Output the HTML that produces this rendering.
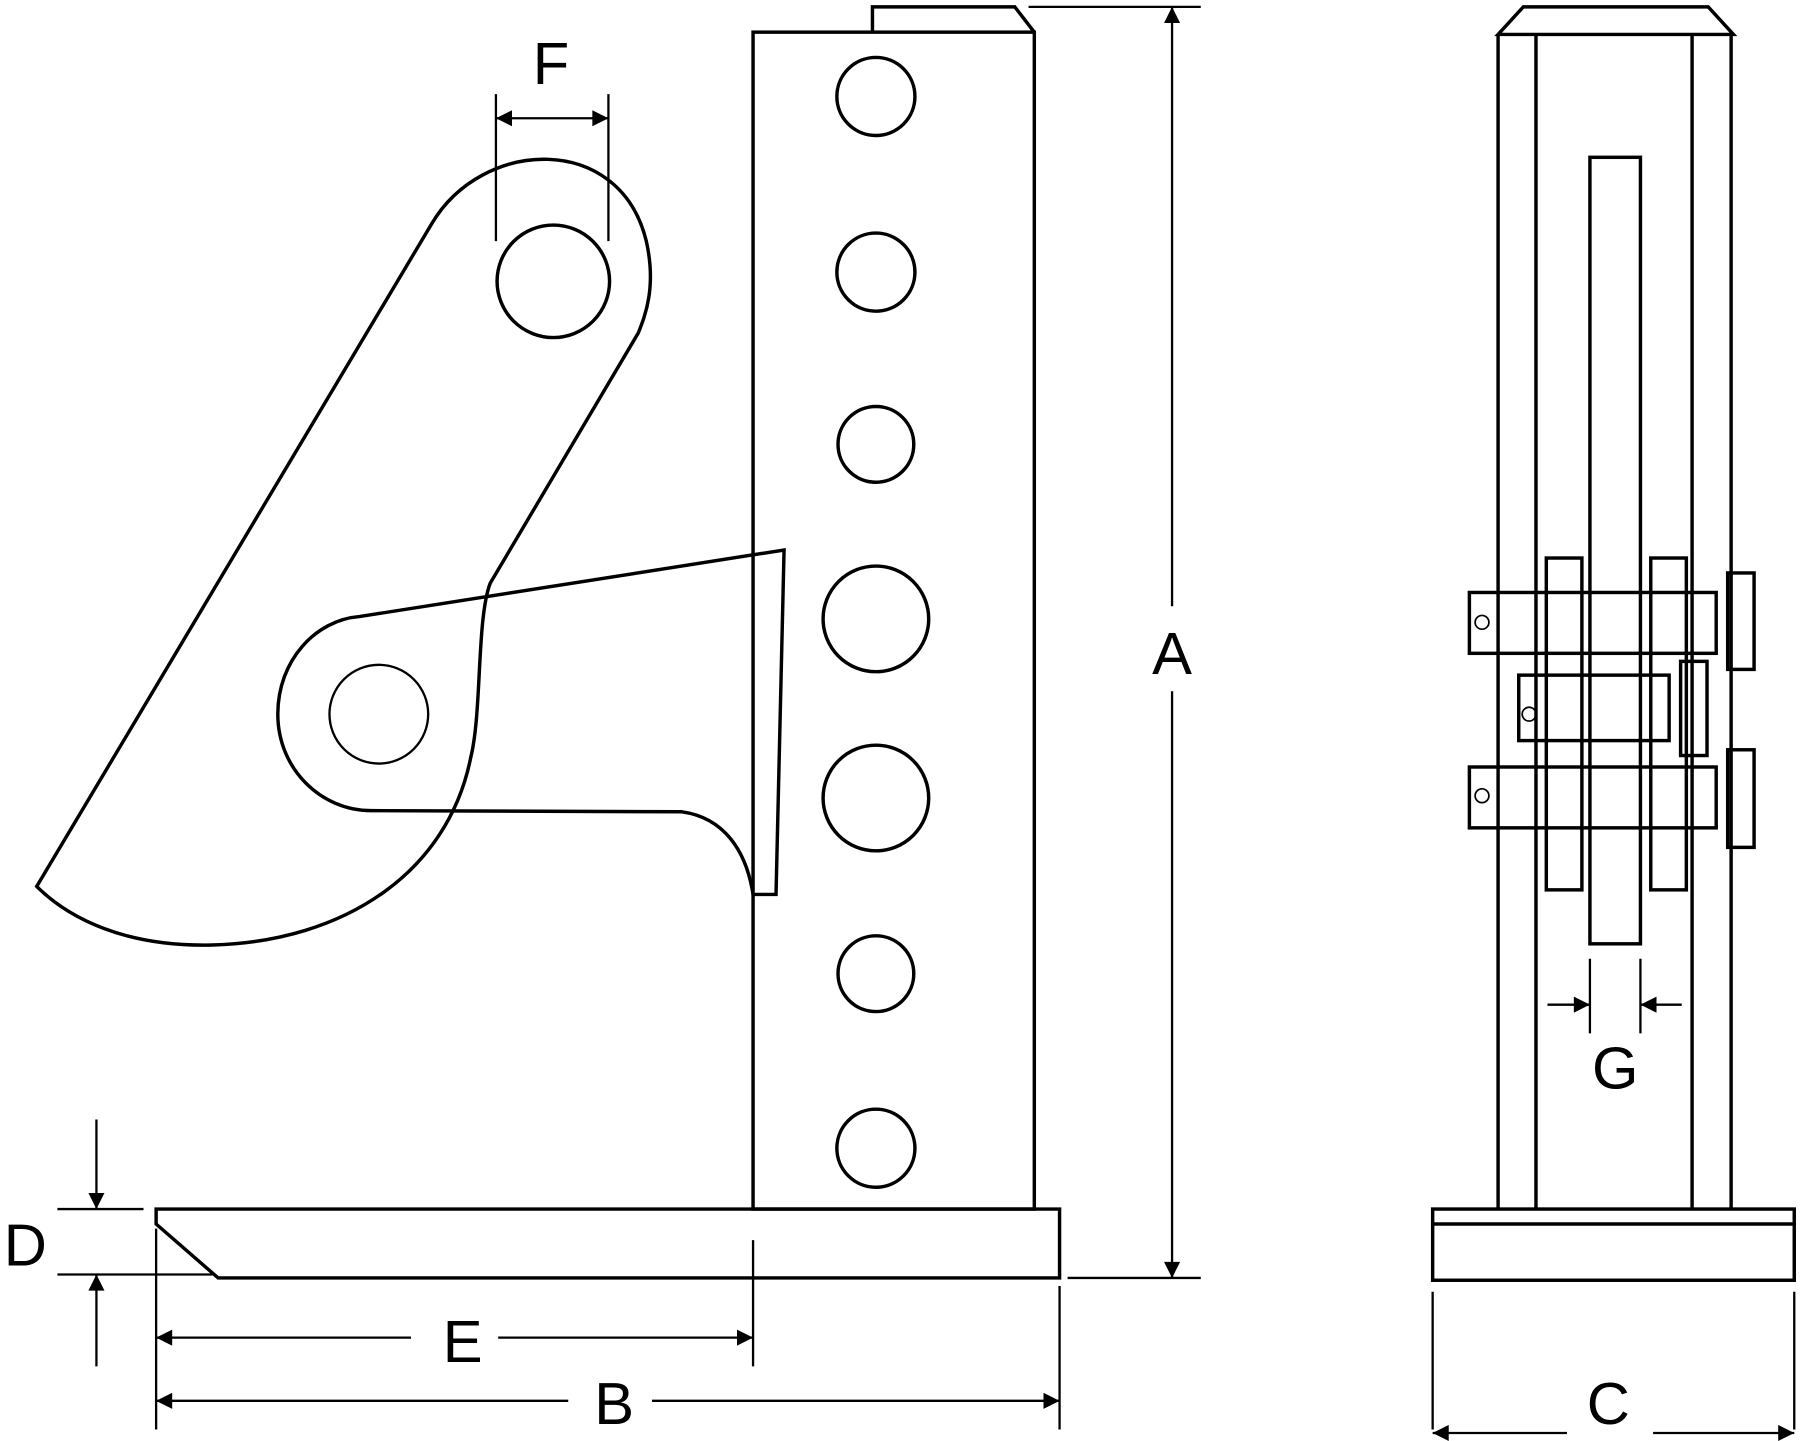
<!DOCTYPE html>
<html><head><style>html,body{margin:0;padding:0;background:#fff}svg{display:block}</style></head>
<body>
<svg width="1800" height="1441" viewBox="0 0 1568 1255" xmlns="http://www.w3.org/2000/svg" preserveAspectRatio="none">
<defs>
<marker id="ar" viewBox="0 0 10 10" refX="10" refY="5" markerWidth="24" markerHeight="14" markerUnits="userSpaceOnUse" orient="auto-start-reverse"><path d="M0,0 L10,5 L0,10 z" fill="#000"/></marker>
</defs>
<g fill="none" stroke="#000" stroke-width="3" stroke-linejoin="miter">
<rect x="656" y="28" width="245" height="1025"/>
<polyline points="760,28 760,6 884,6 901,28"/>
<circle cx="763" cy="84" r="34"/><circle cx="763" cy="237" r="34"/><circle cx="763" cy="387" r="33"/>
<circle cx="763" cy="539" r="46"/><circle cx="763" cy="695" r="46"/><circle cx="763" cy="848" r="33"/><circle cx="763" cy="1000" r="34"/>
<polygon points="136,1053 923,1053 923,1113 190,1113 136,1066"/>
<path d="M313,537 L683,479 L676,779 L656,779 C650,740 630,712 594,707 L323,706 C280,706 242,670 242,622 C242,575 275,540 313,537 Z"/>
<circle cx="330" cy="622" r="43" stroke-width="2"/>
<path d="M32,772 L376,195 C420,120 540,115 563,210 C572,250 562,275 556,290 L427,508 C415,540 420,620 410,660 C390,760 300,820 185,823 C110,825 60,800 32,772 Z"/>
<circle cx="482" cy="245" r="49"/>
</g>
<g fill="none" stroke="#000" stroke-width="2">
<line x1="432" y1="82" x2="432" y2="210"/><line x1="530" y1="82" x2="530" y2="210"/>
<line x1="432" y1="103" x2="530" y2="103" marker-start="url(#ar)" marker-end="url(#ar)"/>
<line x1="896" y1="6" x2="1046" y2="6"/><line x1="930" y1="1113" x2="1046" y2="1113"/>
<line x1="1021" y1="528" x2="1021" y2="6" marker-end="url(#ar)"/>
<line x1="1021" y1="602" x2="1021" y2="1113" marker-end="url(#ar)"/>
<line x1="50" y1="1053" x2="125" y2="1053"/><line x1="50" y1="1110" x2="185" y2="1110"/>
<line x1="84" y1="975" x2="84" y2="1053" marker-end="url(#ar)"/>
<line x1="84" y1="1190" x2="84" y2="1110" marker-end="url(#ar)"/>
<line x1="656" y1="1080" x2="656" y2="1190"/><line x1="136" y1="1070" x2="136" y2="1245"/>
<line x1="358" y1="1165" x2="136" y2="1165" marker-end="url(#ar)"/>
<line x1="434" y1="1165" x2="656" y2="1165" marker-end="url(#ar)"/>
<line x1="923" y1="1120" x2="923" y2="1245"/>
<line x1="495" y1="1220" x2="136" y2="1220" marker-end="url(#ar)"/>
<line x1="568" y1="1220" x2="923" y2="1220" marker-end="url(#ar)"/>
<line x1="1248" y1="1125" x2="1248" y2="1245"/><line x1="1563" y1="1125" x2="1563" y2="1245"/>
<line x1="1365" y1="1248" x2="1248" y2="1248" marker-end="url(#ar)"/>
<line x1="1440" y1="1248" x2="1563" y2="1248" marker-end="url(#ar)"/>
<line x1="1385" y1="835" x2="1385" y2="900"/><line x1="1429" y1="835" x2="1429" y2="900"/>
<line x1="1348" y1="875" x2="1385" y2="875" marker-end="url(#ar)"/>
<line x1="1465" y1="875" x2="1429" y2="875" marker-end="url(#ar)"/>
</g>
<g fill="none" stroke="#000" stroke-width="3">
<rect x="1248" y="1053" width="315" height="62"/><line x1="1248" y1="1066" x2="1563" y2="1066"/>
<line x1="1305" y1="30" x2="1305" y2="1053"/><line x1="1508" y1="30" x2="1508" y2="1053"/>
<line x1="1338" y1="30" x2="1338" y2="1053"/><line x1="1474" y1="30" x2="1474" y2="1053"/>
<polygon points="1305,30 1327,6 1488,6 1510,30"/>
<rect x="1385" y="137" width="44" height="685"/>
<rect x="1347" y="486" width="31" height="289"/><rect x="1438" y="486" width="31" height="289"/>
<rect x="1280" y="516" width="215" height="53"/><rect x="1280" y="668" width="215" height="53"/>
<rect x="1323" y="588" width="131" height="57"/>
<rect x="1505" y="499" width="23" height="84"/><rect x="1505" y="653" width="23" height="85"/>
<rect x="1464" y="576" width="23" height="82"/>
</g>
<g fill="none" stroke="#000" stroke-width="1.5">
<circle cx="1291" cy="542" r="6"/><circle cx="1332" cy="622" r="6"/><circle cx="1291" cy="693" r="6"/>
</g>
<g font-family="Liberation Sans, sans-serif" font-size="52" text-anchor="middle" fill="#000">
<text x="480" y="73">F</text>
<text x="1021" y="587">A</text>
<text x="22" y="1102">D</text>
<text x="403" y="1186">E</text>
<text x="535" y="1240">B</text>
<text x="1401" y="1240">C</text>
<text x="1407" y="948">G</text>
</g>
</svg>
</body></html>
